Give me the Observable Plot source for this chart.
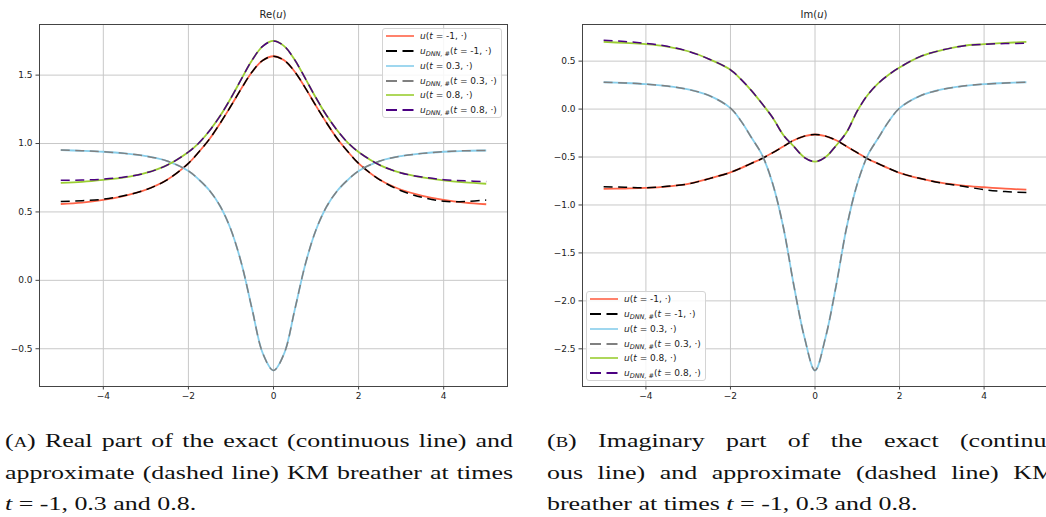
<!DOCTYPE html>
<html><head><meta charset="utf-8">
<script src="https://cdn.jsdelivr.net/npm/d3@7"></script>
<script src="https://cdn.jsdelivr.net/npm/@observablehq/plot@0.6"></script>
<style>
html,body{margin:0;padding:0;background:#fff;}
body{width:1046px;height:517px;overflow:hidden;position:relative;font-family:"DejaVu Sans",sans-serif;color:#222;}
.chart{position:absolute;top:0;}
.chart svg{max-width:none !important;}
.title{position:absolute;top:8px;width:100px;text-align:center;font-size:10px;line-height:13px;color:#222;}
.legend{position:absolute;width:120px;height:90px;box-sizing:border-box;background:rgba(255,255,255,0.85);border:1px solid #d4d4d4;border-radius:3px;}
.lrow{position:absolute;left:0;height:14px;width:120px;}
.lrow svg{position:absolute;left:3px;top:5px;}
.lrow span{position:absolute;left:37px;top:0;font-size:9px;line-height:14px;white-space:nowrap;color:#222;}
.lrow sub{font-size:6.5px;vertical-align:-1.5px;font-style:italic;}
.cap{position:absolute;top:425px;width:382px;transform:scaleX(1.33);transform-origin:0 0;font-family:"Liberation Serif",serif;font-size:19.5px;color:#111;}
.cap div{height:31.5px;line-height:31.5px;}
.just{text-align:justify;text-align-last:justify;}
</style></head>
<body>
<div id="left" class="chart" style="left:0px;width:520px"></div>
<div id="right" class="chart" style="left:520px;width:540px"></div>
<div class="title" style="left:223px">Re(<i>u</i>)</div>
<div class="title" style="left:764px">Im(<i>u</i>)</div>
<div id="legL" class="legend" style="left:382px;top:28px"></div>
<div id="legR" class="legend" style="left:586px;top:291px"></div>
<div class="cap" style="left:5px">
  <div class="just">(<span style="font-variant:small-caps">a</span>) Real part of the exact (continuous line) and</div>
  <div class="just">approximate (dashed line) KM breather at times</div>
  <div><i>t</i> = -1, 0.3 and 0.8.</div>
</div>
<div class="cap" style="left:547px">
  <div class="just">(<span style="font-variant:small-caps">b</span>) Imaginary part of the exact (continu-</div>
  <div class="just">ous line) and approximate (dashed line) KM</div>
  <div>breather at times <i>t</i> = -1, 0.3 and 0.8.</div>
</div>
<script>
// x sample positions
const xs = [-5,-4.5,-4,-3.5,-3,-2.5,-2,-1.75,-1.5,-1.25,-1,-0.75,-0.5,-0.25,0,0.25,0.5,0.75,1,1.25,1.5,1.75,2,2.5,3,3.5,4,4.5,5];

// Real part
const reExactM1 = [0.558,0.568,0.588,0.618,0.662,0.735,0.855,0.94,1.035,1.15,1.275,1.405,1.525,1.608,1.638,1.608,1.525,1.405,1.275,1.15,1.035,0.94,0.855,0.735,0.662,0.618,0.588,0.568,0.556];
const reDnnM1   = [0.576,0.582,0.593,0.62,0.662,0.735,0.855,0.94,1.035,1.15,1.275,1.405,1.525,1.608,1.638,1.608,1.525,1.405,1.275,1.15,1.035,0.94,0.855,0.735,0.655,0.606,0.578,0.576,0.587];
const reExact03 = [0.952,0.947,0.94,0.928,0.908,0.872,0.80,0.735,0.655,0.54,0.37,0.12,-0.215,-0.535,-0.659,-0.535,-0.215,0.12,0.37,0.54,0.655,0.735,0.80,0.872,0.908,0.928,0.94,0.947,0.949];
const reDnn03   = [0.952,0.947,0.94,0.928,0.908,0.872,0.80,0.735,0.655,0.54,0.37,0.12,-0.215,-0.535,-0.659,-0.535,-0.215,0.12,0.37,0.54,0.655,0.735,0.80,0.872,0.908,0.928,0.94,0.947,0.949];
const reExact08 = [0.712,0.72,0.734,0.752,0.785,0.842,0.938,1.005,1.095,1.204,1.333,1.474,1.611,1.712,1.75,1.712,1.611,1.474,1.333,1.204,1.095,1.005,0.938,0.842,0.785,0.752,0.73,0.716,0.706];
const reDnn08   = [0.731,0.733,0.74,0.755,0.785,0.842,0.938,1.005,1.095,1.204,1.333,1.474,1.611,1.712,1.75,1.712,1.611,1.474,1.333,1.204,1.095,1.005,0.938,0.842,0.785,0.755,0.736,0.727,0.722];

// Imaginary part
const imExactM1 = [-0.832,-0.828,-0.822,-0.808,-0.78,-0.725,-0.66,-0.615,-0.565,-0.515,-0.455,-0.39,-0.325,-0.282,-0.265,-0.282,-0.325,-0.39,-0.455,-0.52,-0.57,-0.62,-0.665,-0.725,-0.77,-0.798,-0.815,-0.83,-0.84];
const imDnnM1   = [-0.81,-0.815,-0.82,-0.805,-0.78,-0.725,-0.66,-0.615,-0.565,-0.515,-0.455,-0.39,-0.325,-0.282,-0.265,-0.282,-0.325,-0.39,-0.455,-0.52,-0.57,-0.62,-0.665,-0.725,-0.772,-0.805,-0.84,-0.86,-0.87];
const imExact03 = [0.28,0.272,0.26,0.24,0.205,0.14,0.01,-0.125,-0.30,-0.48,-0.78,-1.23,-1.84,-2.38,-2.726,-2.38,-1.84,-1.23,-0.78,-0.48,-0.30,-0.125,0.01,0.14,0.205,0.24,0.26,0.272,0.28];
const imDnn03   = [0.28,0.272,0.26,0.24,0.205,0.14,0.01,-0.125,-0.30,-0.48,-0.78,-1.23,-1.84,-2.38,-2.726,-2.38,-1.84,-1.23,-0.78,-0.48,-0.30,-0.125,0.01,0.14,0.205,0.24,0.26,0.272,0.28];
const imExact08 = [0.70,0.69,0.677,0.652,0.603,0.52,0.41,0.31,0.19,0.055,-0.09,-0.27,-0.39,-0.505,-0.548,-0.50,-0.38,-0.24,-0.02,0.15,0.27,0.36,0.434,0.55,0.615,0.66,0.677,0.69,0.70];
const imDnn08   = [0.718,0.705,0.685,0.655,0.603,0.52,0.41,0.31,0.19,0.055,-0.09,-0.27,-0.39,-0.505,-0.548,-0.50,-0.38,-0.24,-0.02,0.15,0.27,0.36,0.434,0.55,0.615,0.658,0.675,0.683,0.686];

// ticks and labels
const xTicks = [-4,-2,0,2,4];
const reTicks = [-0.5,0.0,0.5,1.0,1.5];
const imTicks = [-2.5,-2.0,-1.5,-1.0,-0.5,0.0,0.5];
const legendLabels = [
  '<i>u</i>(<i>t</i> = -1, ·)',
  '<i>u</i><sub>DNN, #</sub>(<i>t</i> = -1, ·)',
  '<i>u</i>(<i>t</i> = 0.3, ·)',
  '<i>u</i><sub>DNN, #</sub>(<i>t</i> = 0.3, ·)',
  '<i>u</i>(<i>t</i> = 0.8, ·)',
  '<i>u</i><sub>DNN, #</sub>(<i>t</i> = 0.8, ·)'
];
const colors = ["#ff6347","#000000","#87ceeb","#808080","#9acd32","#4b0082"];
const dashed = [false,true,false,true,false,true];

function lineMarks(series){
  return series.map((arr,i)=>{
    const rows = xs.map((x,j)=>({x, y: arr[j]}));
    return Plot.line(rows,{
      x: "x", y: "y",
      stroke: colors[i],
      strokeWidth: dashed[i] ? 1.5 : 1.8,
      strokeDasharray: dashed[i] ? "9,5.5" : undefined,
      strokeLinecap: "butt",
      curve: "catmull-rom"
    });
  });
}

function chart(series, yDomain, yTicks, width, marginLeft, marginRight){
  return Plot.plot({
    width, height: 411,
    marginLeft, marginRight, marginTop: 24, marginBottom: 25,
    style: {fontFamily: "DejaVu Sans", fontSize: "9px", color: "#222", background: "transparent", maxWidth: "none"},
    x: {domain: [-5.5, 5.5]},
    y: {domain: yDomain},
    marks: [
      Plot.gridX(xTicks, {stroke: "#c8c8c8", strokeOpacity: 1, strokeWidth: 1}),
      Plot.gridY(yTicks, {stroke: "#c8c8c8", strokeOpacity: 1, strokeWidth: 1}),
      Plot.axisX(xTicks, {tickSize: 3.5, tickPadding: 3, tickFormat: d3.format("d"), label: null, stroke: "#444"}),
      Plot.axisY(yTicks, {tickSize: 3.5, tickPadding: 3.5, tickFormat: d3.format(".1f"), label: null, stroke: "#444"}),
      ...lineMarks(series),
      Plot.frame({stroke: "#444", strokeWidth: 1})
    ]
  });
}

document.getElementById("left").append(
  chart([reExactM1,reDnnM1,reExact03,reDnn03,reExact08,reDnn08], [-0.776,1.87], reTicks, 520, 39, 13)
);
document.getElementById("right").append(
  chart([imExactM1,imDnnM1,imExact03,imDnn03,imExact08,imDnn08], [-2.893,0.882], imTicks, 540, 62, 13)
);

function legend(id){
  const el = document.getElementById(id);
  legendLabels.forEach((lab,i)=>{
    const row = document.createElement("div");
    row.className = "lrow";
    row.style.top = (0.4 + 14.7*i) + "px";
    const dash = dashed[i] ? 'stroke-dasharray="11,5.5"' : '';
    row.innerHTML = `<svg width="28" height="4"><line x1="0" y1="2" x2="28" y2="2" stroke="${colors[i]}" stroke-width="${dashed[i]?2:1.6}" ${dash}/></svg><span>${lab}</span>`;
    el.append(row);
  });
}
legend("legL");
legend("legR");
</script>
</body></html>
